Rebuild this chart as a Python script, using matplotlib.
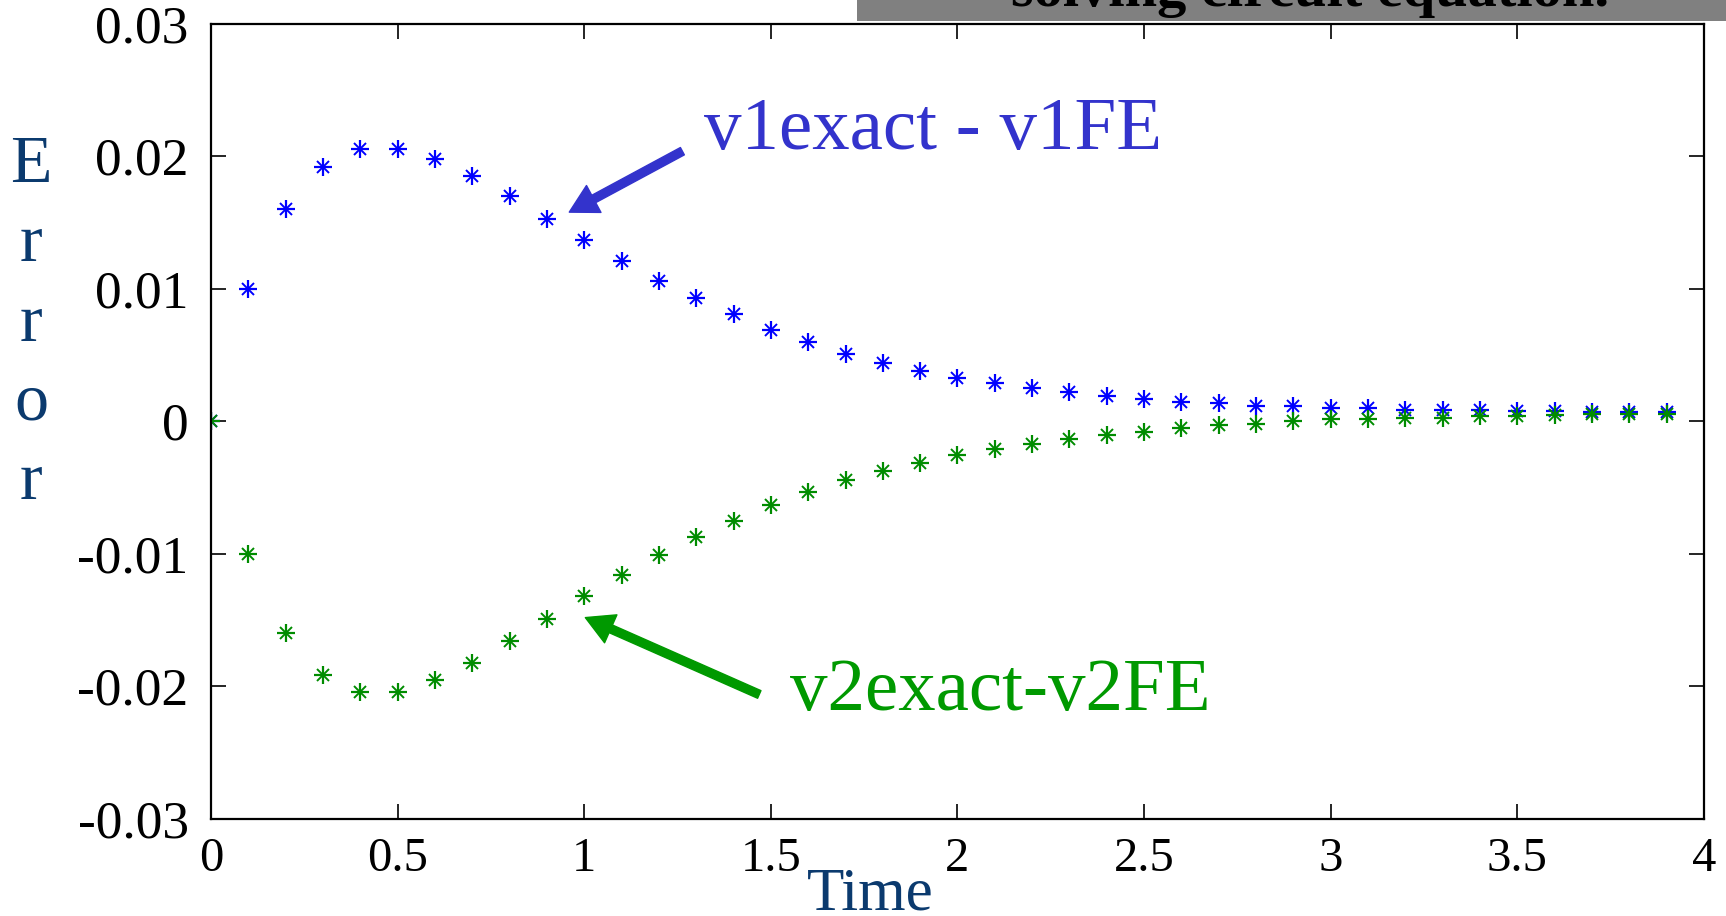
import numpy as np
import matplotlib
matplotlib.use("Agg")
import matplotlib.pyplot as plt
from matplotlib.patches import Rectangle

plt.rcParams["font.family"] = ["Liberation Serif", "DejaVu Serif"]

# time samples (step 0.1)
t = np.round(np.arange(0, 40) * 0.1, 1)

# v1exact - v1FE
err_v1 = [0.0, 0.0100, 0.0160, 0.0192, 0.0206, 0.0206, 0.0198, 0.0185, 0.0170, 0.0153,
          0.0137, 0.0121, 0.0106, 0.0093, 0.0081, 0.0069, 0.0060, 0.0051, 0.0044, 0.0038,
          0.0033, 0.0029, 0.0025, 0.0022, 0.0019, 0.0017, 0.0015, 0.0014, 0.0012, 0.0012,
          0.0010, 0.0010, 0.0009, 0.0009, 0.0009, 0.0008, 0.0008, 0.0007, 0.0007, 0.0007]

# v2exact - v2FE
err_v2 = [0.0, -0.0100, -0.0160, -0.0191, -0.0204, -0.0204, -0.0195, -0.0182, -0.0166, -0.0149,
          -0.0132, -0.0116, -0.0101, -0.0087, -0.0075, -0.0063, -0.0053, -0.0044, -0.0037, -0.0031,
          -0.0025, -0.0021, -0.0017, -0.0013, -0.0010, -0.0008, -0.0005, -0.0003, -0.0002, 0.0000,
          0.0002, 0.0002, 0.0003, 0.0003, 0.0004, 0.0004, 0.0005, 0.0006, 0.0006, 0.0006]

xticks = [0, 0.5, 1, 1.5, 2, 2.5, 3, 3.5, 4]
xticklabels = ["0", "0.5", "1", "1.5", "2", "2.5", "3", "3.5", "4"]
yticks = [-0.03, -0.02, -0.01, 0, 0.01, 0.02, 0.03]
yticklabels = ["-0.03", "-0.02", "-0.01", "0", "0.01", "0.02", "0.03"]

blue = "#0000ff"
green = "#008c00"
label_blue = "#0b3a6e"

fig = plt.figure(figsize=(17.26, 9.16), dpi=100)
ax = fig.add_axes([0.1222, 0.1059, 0.8651, 0.8679])

# matlab-like asterisk: plus + cross
for y, c in [(err_v1, blue), (err_v2, green)]:
    ax.plot(t, y, linestyle="none", marker="+", ms=13, mew=1.6, color=c)
    ax.plot(t, y, linestyle="none", marker="x", ms=8.5, mew=1.4, color=c)

ax.set_xlim(0, 4)
ax.set_ylim(-0.03, 0.03)
ax.set_xticks(xticks)
ax.set_xticklabels(xticklabels, fontsize=35)
ax.set_yticks(yticks)
ax.set_yticklabels(yticklabels, fontsize=38.5)
ax.tick_params(direction="in", length=11, width=1.2, top=True, right=True)
ax.tick_params(axis="y", pad=16)
ax.tick_params(axis="x", pad=13)
for s in ax.spines.values():
    s.set_linewidth(1.6)

# annotations
ax.annotate("", xy=(0.96, 0.0158), xytext=(1.263, 0.0204),
            arrowprops=dict(facecolor="#3333cc", edgecolor="#3333cc",
                            width=6, headwidth=22, headlength=20, shrink=0))
ax.text(1.322, 0.0219, "v1exact - v1FE", color="#3333cc", fontsize=54,
        ha="left", va="center")
ax.annotate("", xy=(1.003, -0.0148), xytext=(1.469, -0.0206),
            arrowprops=dict(facecolor="#009900", edgecolor="#009900",
                            width=6, headwidth=22, headlength=20, shrink=0))
ax.text(1.552, -0.0204, "v2exact-v2FE", color="#009900", fontsize=54,
        ha="left", va="center")

# axis labels as on the slide
fig.text(870 / 1726, 1 - 895 / 916, "Time", color=label_blue, fontsize=44,
         ha="center", va="center")
for i, ch in enumerate("Error"):
    fig.text(31 / 1726, 1 - (182 + 79.3 * i) / 916, ch, color=label_blue,
             fontsize=49, ha="center", va="baseline")

# grey title bar cut off at the top
fig.add_artist(Rectangle((857 / 1726, 1 - 21 / 916), 1 - 857 / 1726, 21 / 916,
                         transform=fig.transFigure, facecolor="#808080",
                         edgecolor="none"))
fig.text(1310 / 1726, 1 - 6 / 916, "solving circuit equation.", fontsize=42,
         fontweight="bold", ha="center", va="baseline", color="black")

fig.savefig("out.png", dpi=100)
